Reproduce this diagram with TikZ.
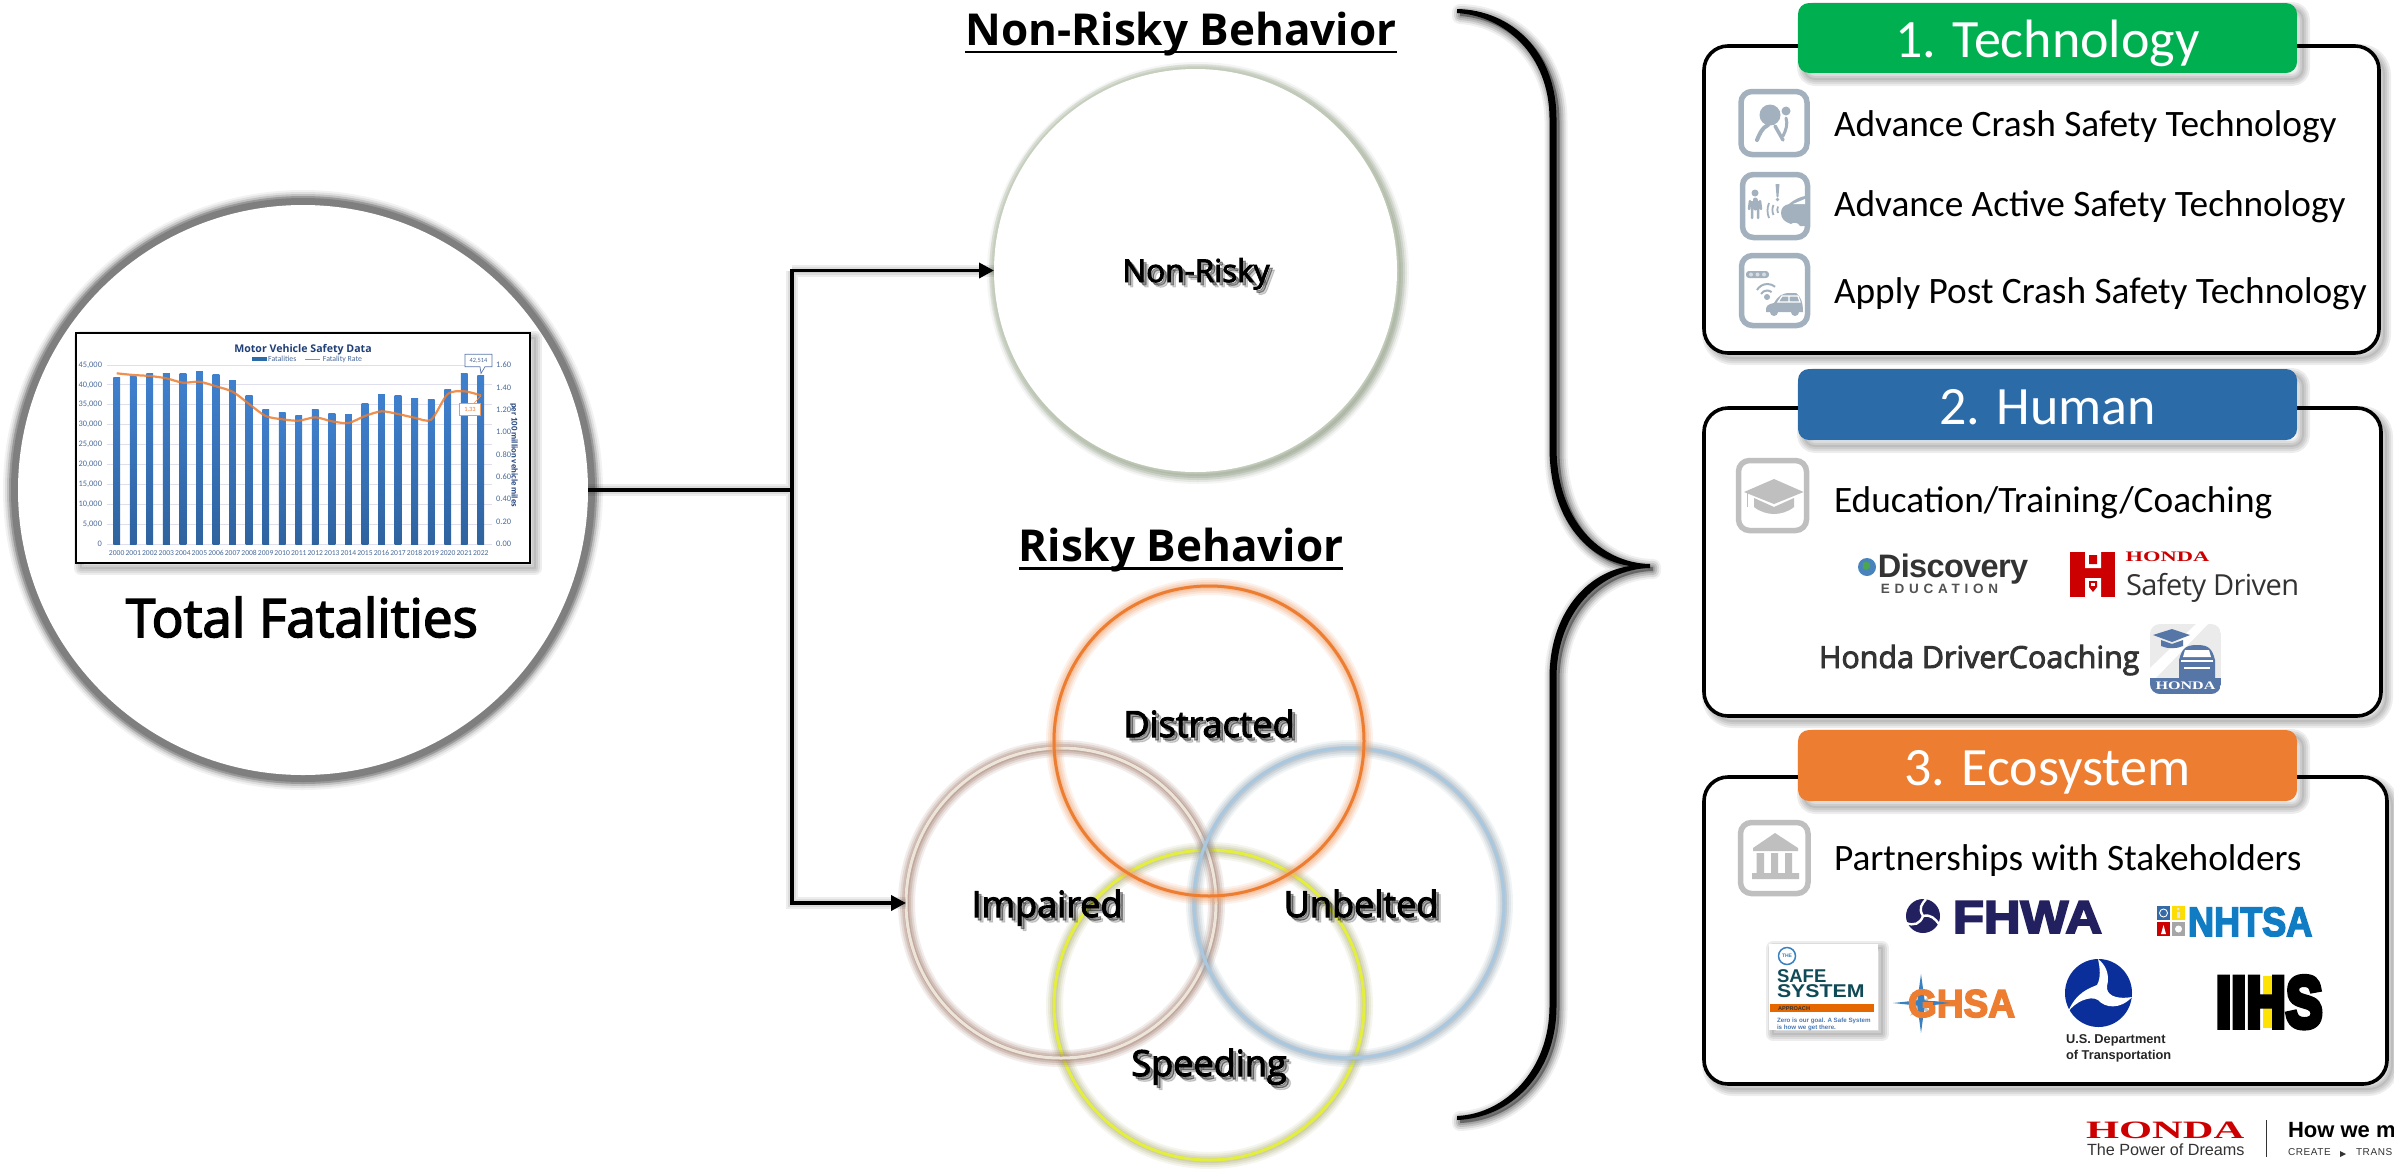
\documentclass[tikz,border=0pt]{standalone}
\usepackage{fontspec}
\setmainfont{Carlito}
\newfontfamily\os{Open Sans}
\newfontfamily\osm[FakeBold=3]{Open Sans}
\newfontfamily\lib{Liberation Sans}
\newfontfamily\libs{Liberation Serif}
\newfontfamily\libh[FakeBold=8]{Liberation Sans Bold}
\newfontfamily\libf[FakeBold=4]{Liberation Sans Bold}
\newcommand{\fs}[1]{\fontsize{#1}{#1}\selectfont}
\definecolor{igrayb}{HTML}{A3B1BE}
\definecolor{igray}{HTML}{BFBFBF}
\definecolor{cnavy}{HTML}{1F3F77}
\definecolor{ctick}{HTML}{4A6A99}
\definecolor{corange}{HTML}{ED7D31}
\definecolor{hgreen}{HTML}{00B050}
\definecolor{hblue}{HTML}{2B6CA8}
\definecolor{hred}{HTML}{CC0000}
\definecolor{fhw}{HTML}{23205F}
\definecolor{nht}{HTML}{0F7CC4}
\definecolor{dotb}{HTML}{0A2F9A}
\definecolor{teal1}{HTML}{0F4A57}
\definecolor{dk}{HTML}{333333}
\definecolor{bartop}{HTML}{3F80CE}
\definecolor{barbot}{HTML}{2F639F}
\definecolor{glowb}{HTML}{9C7665}
\definecolor{glowu}{HTML}{9AAAB8}
\definecolor{lineu}{HTML}{A9C8E0}
\definecolor{linei}{HTML}{EDE4DA}
\definecolor{lines}{HTML}{E4EE3C}
\definecolor{glows}{HTML}{B4B680}
\definecolor{glowo}{HTML}{F0A26C}
\definecolor{nrd}{HTML}{7F8C74}
\definecolor{nrl}{HTML}{C5CFBB}
\tikzset{
  tx/.style={inner sep=0pt,outer sep=0pt,anchor=base},
  txl/.style={tx,anchor=base west},
  txr/.style={inner sep=0pt,outer sep=0pt,anchor=east},
  txm/.style={inner sep=0pt,outer sep=0pt,anchor=center},
  circ/.style={circle,inner sep=0pt,outer sep=0pt,minimum size=#1},
  conn/.style={line width=3.6pt,black},
  tipped/.style={-{Triangle[length=15pt,width=15pt]}},
  boxln/.style={line width=3.6pt,black,fill=white,rounded corners=24pt},
  hdr/.style={rounded corners=11pt},
  hdrtx/.style={tx,font=\fs{54},white},
  item/.style={txl,font=\fs{37.3}},
  iconb/.style={line width=5.5pt,rounded corners=11pt},
  lbl/.style={tx,font=\osm\fs{36}},
}
\usetikzlibrary{arrows.meta}
\newcommand{\softp}[3][]{\begin{scope}[shift={(#2,#2)}]\foreach \w in {14,10,6,2}{\draw[black,opacity=.07,line width=\w pt,line join=round,#1] #3;}\end{scope}}
\newcommand{\ring}[5]{%
 \foreach \w/\op in {17/.13,13/.18,9/.24,5/.30}{\draw[#4,opacity=\op,line width=\w pt] (#1+.5,#2+.5) circle[radius=#3 pt];}
 \draw[#5,line width=3pt] (#1,#2) circle[radius=#3 pt];}
\newcommand{\shlab}[4]{%
 \foreach \d/\op in {5/.16,3/.34}{\node[lbl,opacity=\op] (#1s\d) at (#2+\d,#3+\d) {#4};}
 \node[lbl] (#1) at (#2,#3) {#4};}
\begin{document}
\begin{tikzpicture}[x=1pt,y=-1pt]
\useasboundingbox (0,0) rectangle (2394,1168);
\clip (0,0) rectangle (2394,1168);
\fill[white] (0,0) rectangle (2394,1168);

%% ---------- left big circle
\foreach \w/\op/\c in {24/.05/black,20/.08/black,16/.3/gray,12/.6/gray,8/.8/gray!95!black}{\draw[\c,opacity=\op,line width=\w pt] (303,490) circle[radius=288pt];}
\fill[white] (303,490) circle[radius=285pt];
\node[circ=570pt] (total) at (303,490) {};

%% chart
\softp{5}{(76,333) rectangle (530,563)}
\draw[black,line width=2.6pt,fill=white] (76,333) rectangle (530,563);
\foreach \i in {0,...,9}{\pgfmathsetmacro\yy{365+\i*19.89}\draw[blue!30!gray!20,line width=.8pt] (107,\yy) -- (492,\yy);}
\foreach \i/\t in {0/377,1/376,2/373.3,3/373.7,4/373.7,5/371.3,6/374.3,7/380.3,8/395.7,9/409.7,10/412.7,11/415,12/409.7,13/413.3,14/414,15/403.3,16/394,17/395,18/398,19/399.7,20/389,21/373.7,22/375}{
  \pgfmathsetmacro\xx{116.7+\i*16.55}
  \shade[top color=bartop,bottom color=barbot] (\xx-3.4,\t) rectangle (\xx+3.4,544);
  \pgfmathtruncatemacro\yr{2000+\i}
  \node[txm,font=\fs{7.6},ctick] (yr\i) at (\xx,552.7) {\yr};
}
\draw[corange,line width=2.2pt,opacity=.85] plot[smooth,tension=.45] coordinates {(116.7,373.3)(133.25,375)(149.8,376)(166.35,378.3)(182.9,382.7)(199.45,381.7)(216,386.3)(232.55,391.7)(249.1,404)(265.65,416)(282.2,419.3)(298.75,420.7)(315.3,417.3)(331.85,421.3)(348.4,423)(364.95,416)(381.5,411.3)(398.05,414)(414.6,417.7)(431.15,419.7)(447.7,394)(464.25,391.3)(480.8,395.3)};
\foreach \i/\l in {0/{45,000},1/{40,000},2/{35,000},3/{30,000},4/{25,000},5/{20,000},6/{15,000},7/{10,000},8/{5,000},9/0}{
  \pgfmathsetmacro\yy{365+\i*19.89}\node[txr,font=\fs{8.4},ctick] (la\i) at (102,\yy) {\l};}
\foreach \i/\l in {0/1.60,1/1.40,2/1.20,3/1.00,4/0.80,5/0.60,6/0.40,7/0.20,8/0.00}{
  \pgfmathsetmacro\yy{365+\i*22.375}\node[inner sep=0pt,anchor=west,font=\fs{8.4},ctick] (ra\i) at (496,\yy) {\l};}
\node[tx,font=\os\bfseries\fs{10.6},cnavy] (ctitle) at (303,352) {Motor Vehicle Safety Data};
\fill[hblue] (251.7,357.3) rectangle (266.7,361.3);
\node[inner sep=0pt,anchor=west,font=\fs{7.8},ctick] (lgf) at (268,359) {Fatalities};
\draw[corange,line width=1.5pt] (305,359.3) -- (320,359.3);
\node[inner sep=0pt,anchor=west,font=\fs{7.8},ctick] (lgr) at (322.7,359) {Fatality Rate};
\node[txm,rotate=-90,font=\bfseries\fs{8.8},cnavy] (axr) at (514,455) {per 100 million vehicle miles};
\draw[cyan!40!blue!60!gray,line width=.7pt,fill=white] (465,354.3) -- (492,354.3) -- (492,366.7) -- (485,366.7) -- (481,373.5) -- (480,366.7) -- (465,366.7) -- cycle;
\node[txm,font=\fs{6.4},ctick] (c1) at (478.5,360.5) {42,514};
\draw[corange!80,line width=.7pt] (474,403.3) -- (481,395.5);
\draw[corange!80,line width=.7pt,fill=white] (459.7,403.3) rectangle (480.3,415);
\node[txm,font=\fs{6.4},corange] (c2) at (470,409.2) {1.33};

\node[tx,font=\osm\fs{53}] (totallbl) at (302,637) {Total Fatalities};

%% ---------- non-risky
\node[tx,font=\os\bfseries\fs{44}] (nrt) at (1181,45) {Non-Risky Behavior};
\draw[black,line width=2.6pt] (965,52) -- (1397,52);
\foreach \w/\op in {3/.3,7/.25,11/.2,15/.14,19/.08}{\draw[nrd,opacity=\op,line width=\w pt] (1198,273) circle[radius=201.5pt];}
\foreach \w/\op in {4/.6,9/.35}{\draw[nrl,opacity=\op,line width=\w pt] (1195.5,270.5) circle[radius=201.5pt];}
\fill[white] (1195.5,270.5) circle[radius=201.5pt];
\node[circ=403pt] (nonrisky) at (1195.5,270.5) {};
\shlab{nrl}{1196}{282}{\fs{31.5}Non-Risky}

%% ---------- risky
\node[tx,font=\os\bfseries\fs{44}] (rt) at (1181,561.5) {Risky Behavior};
\draw[black,line width=2.6pt] (1019,568.5) -- (1343,568.5);
\ring{1209}{1005}{155}{glows}{lines}
\ring{1061}{903}{155}{glowb}{linei}
\ring{1349}{903}{155}{glowu}{lineu}
\ring{1209}{741}{155}{glowo}{corange}
\node[circ=310pt] (dist) at (1209,741) {};
\node[circ=310pt] (impaired) at (1061,903) {};
\node[circ=310pt] (unb) at (1349,903) {};
\node[circ=310pt] (spd) at (1209,1005) {};
\shlab{ldist}{1209}{737}{Distracted}
\shlab{limp}{1047}{917}{Impaired}
\shlab{lunb}{1361}{917}{Unbelted}
\shlab{lspd}{1209}{1076}{Speeding}

%% ---------- connectors
\coordinate (jn) at (792,490);
\begin{scope}[shift={(5,5)}]
\foreach \w in {12,8,4}{\draw[black,opacity=.07,line width=\w pt] (total.east) -- (jn) (jn |- nonrisky.west) -- (jn |- impaired.west) -- (impaired.west) (jn |- nonrisky.west) -- (nonrisky.west);}
\end{scope}
\draw[conn] (total.east) -- (jn);
\draw[conn,tipped] (jn) |- (nonrisky.west);
\draw[conn,tipped] (jn) |- (impaired.west);

%% ---------- brace
\newcommand{\bracepath}{(1457,9) .. controls (1510,10) and (1556.5,50) .. (1556.5,119) -- (1556.5,447) .. controls (1556.5,520) and (1600,563) .. (1650,564) -- (1650,568) .. controls (1600,569) and (1556.5,612) .. (1556.5,678) -- (1556.5,1006) .. controls (1556.5,1075) and (1510,1118) .. (1457,1120) -- (1457,1116) .. controls (1505,1114) and (1549.5,1070) .. (1549.5,1006) -- (1549.5,678) .. controls (1549.5,612) and (1588,572) .. (1630,566) .. controls (1588,560) and (1549.5,520) .. (1549.5,447) -- (1549.5,119) .. controls (1549.5,55) and (1505,16) .. (1457,13) -- cycle}
\begin{scope}[shift={(3,3)}]
\foreach \w/\op in {16/.06,12/.09,8/.12,4/.14}{\draw[black,opacity=\op,fill=black,line width=\w pt,line join=round] \bracepath;}
\end{scope}
\fill[black] \bracepath;

%% ---------- box 1
\softp{5}{[rounded corners=24pt] (1704,46) rectangle (2379,353)}
\draw[boxln] (1704,46) rectangle (2379,353);
\softp{6}{[rounded corners=11pt] (1798,3) rectangle (2297,73)}
\fill[hgreen,hdr] (1798,3) rectangle (2297,73);
\node[hdrtx] (h1) at (2047.5,57) {1. Technology};
\node[item] (t11) at (1834,136.5) {Advance Crash Safety Technology};
\node[item] (t12) at (1834,216.5) {Advance Active Safety Technology};
\node[item] (t13) at (1834,303) {Apply Post Crash Safety Technology};
% icon 1
\draw[igrayb,iconb] (1741,91.5) rectangle (1807,154.5);
\fill[igrayb] (1770,115) circle[radius=10.5pt] (1786,111) circle[radius=4.5pt];
\draw[igrayb,line width=4pt,line cap=round] (1768,125) .. controls (1762,128) and (1760,133) .. (1757,140);
\draw[igrayb,line width=3.5pt,line cap=round] (1775,126) -- (1783,140);
\draw[igrayb,line width=3pt,line cap=round] (1786,118) .. controls (1788,124) and (1786,130) .. (1783,136);
% icon 2
\draw[igrayb,iconb] (1742.5,174.5) rectangle (1807.5,237.5);
\fill[igrayb] (1755,193) circle[radius=3.5pt];
\draw[igrayb,line width=5pt,line cap=round] (1755,200) -- (1755,208);
\draw[igrayb,line width=2.5pt,line cap=round] (1752,202) -- (1752,218) (1758,202) -- (1758,218) (1750,201) -- (1749,209) (1760,201) -- (1761,209);
\fill[igrayb] (1775.5,184) -- (1779.5,184) -- (1778.4,197) -- (1776.6,197) -- cycle (1777.5,199.5) circle[radius=1.8pt];
\draw[igrayb,line width=1.8pt] (1769,203) .. controls (1767,208) and (1767,213) .. (1769,218) (1773.5,205) .. controls (1772,208) and (1772,212) .. (1773.5,215) (1778,206.5) .. controls (1777,208.5) and (1777,211) .. (1778,213);
\fill[igrayb] (1781,213) .. controls (1781,208) and (1784,205) .. (1789,204) .. controls (1795,199) and (1800,197) .. (1805,196) -- (1805,226) -- (1800,226) .. controls (1798,222) and (1793,222) .. (1791,224) .. controls (1785,222) and (1781,219) .. (1781,213) -- cycle;
\fill[white] (1793,204) -- (1805,199) -- (1805,204) -- cycle;
% icon 3
\draw[igrayb,iconb] (1741.5,255.5) rectangle (1807.5,325.5);
\fill[igrayb,rounded corners=3pt] (1746,271) rectangle (1769,278);
\foreach \x in {1751,1757.5,1764}{\fill[white,opacity=.55] (\x,274.5) circle[radius=2pt];}
\draw[igrayb,line width=2pt] (1757,290) arc[start angle=150,end angle=50,radius=12pt];
\draw[igrayb,line width=2pt] (1761,294) arc[start angle=150,end angle=50,radius=7pt];
\fill[igrayb] (1767,297) circle[radius=3pt];
\fill[igrayb] (1766,312) .. controls (1765,306) and (1768,304) .. (1774,303) .. controls (1778,296) and (1782,293) .. (1790,293) -- (1796,293) .. controls (1800,296) and (1803,301) .. (1803,312) -- cycle;
\fill[igrayb] (1774,312) circle[radius=4pt] (1795,312) circle[radius=4pt];
\draw[white,line width=1.2pt] (1778,302) -- (1782,296) -- (1798,296) -- (1800,302) -- cycle (1789,296) -- (1789,302);

%% ---------- box 2
\softp{5}{[rounded corners=24pt] (1704,408) rectangle (2381,716)}
\draw[boxln] (1704,408) rectangle (2381,716);
\softp{6}{[rounded corners=11pt] (1798,369) rectangle (2297,440)}
\fill[hblue,hdr] (1798,369) rectangle (2297,440);
\node[hdrtx] (h2) at (2047.5,424) {2. Human};
\node[item] (t21) at (1834,512) {Education/Training/Coaching};
\draw[igray,iconb] (1738.5,460.5) rectangle (1806.5,530.5);
\fill[igray] (1744,492) -- (1774,479) -- (1803.6,492) -- (1774,504) -- cycle;
\fill[igray] (1754,498) -- (1774,507) -- (1794,498) -- (1794,507) .. controls (1788,512) and (1780,514) .. (1774,514) .. controls (1768,514) and (1760,512) .. (1754,507) -- cycle;
\draw[igray,line width=1.4pt] (1747.5,493) -- (1747.5,507);
% Discovery
\node[tx,font=\lib\bfseries\fs{32.5}\addfontfeature{LetterSpace=-2},dk] (disc) at (1953,577) {Discovery};
\node[tx,font=\lib\bfseries\fs{13.5}\addfontfeature{LetterSpace=35},dk!85] (educ) at (1939.5,593.5) {EDUCATION};
\fill[cyan!60!blue!70!gray] (1867,567) circle[radius=9pt];
\fill[green!50!black!70] (1863,563) .. controls (1867,560) and (1871,563) .. (1870,567) .. controls (1868,570) and (1865,571) .. (1863,568) -- cycle;
% Safety Driven
\fill[hred] (2070,552) rectangle (2115,597);
\fill[white] (2085,552) rectangle (2101,568) (2085,578) rectangle (2101,597);
\fill[hred] (2089,555) rectangle (2097,564) (2089,581) -- (2097,581) -- (2097,587) -- (2093,592) -- (2089,587) -- cycle;
\fill[white] (2091,583) rectangle (2095,586);
\node[txl,font=\libs\fs{14.5},hred] (hon1) at (2125.6,561) {\scalebox{1.55}[1]{\bfseries HONDA}};
\node[txl,font=\os\fs{29}\addfontfeature{LetterSpace=-2},dk] (sdr) at (2126,595) {Safety Driven};
% DriverCoaching
\node[txl,font=\osm\fs{30.4},dk] (hdc) at (1819,668) {Honda DriverCoaching};
\begin{scope}
\clip[rounded corners=10pt] (2150,624) rectangle (2221,694);
\fill[black!8] (2150,624) rectangle (2221,694);
\fill[white] (2150,668) -- (2196,624) -- (2208,624) -- (2150,684) -- cycle;
\fill[cyan!50!blue!70!black!85] (2150,678) rectangle (2221,694);
\end{scope}
\fill[cyan!50!blue!70!black!85] (2153,635) -- (2172,629) -- (2190,635) -- (2172,642) -- cycle;
\fill[cyan!50!blue!70!black!85] (2161,640) -- (2172,644) -- (2183,640) -- (2183,646) .. controls (2176,649) and (2168,649) .. (2161,646) -- cycle;
\fill[cyan!50!blue!70!black!85] (2179,660) .. controls (2182,648) and (2186,645) .. (2197,645) .. controls (2208,645) and (2212,648) .. (2215,660) -- (2215,678) -- (2179,678) -- cycle;
\fill[white] (2185,650) -- (2209,650) -- (2211,657) -- (2183,657) -- cycle;
\draw[white,line width=1.2pt] (2181,661) -- (2213,661) (2184,668) -- (2210,668);
\node[tx,font=\libs\fs{11.5},white] (hon2) at (2185.5,689.3) {\scalebox{1.4}[1]{\bfseries HONDA}};

%% ---------- box 3
\softp{5}{[rounded corners=24pt] (1704,777) rectangle (2387,1084)}
\draw[boxln] (1704,777) rectangle (2387,1084);
\softp{6}{[rounded corners=11pt] (1798,730) rectangle (2297,801)}
\fill[corange,hdr] (1798,730) rectangle (2297,801);
\node[hdrtx] (h3) at (2047.5,785) {3. Ecosystem};
\node[item] (t31) at (1834,870) {Partnerships with Stakeholders};
\draw[igray,iconb] (1740.5,822.5) rectangle (1808,893.5);
\fill[igray] (1753,848) -- (1775,833) -- (1798,848) -- (1798,851) -- (1753,851) -- cycle;
\fill[igray] (1756.5,853) rectangle (1764,873) (1771,853) rectangle (1778,873) (1785,853) rectangle (1792,873) (1752,873) rectangle (1799,879);
% FHWA
\fill[fhw] (1923,916) circle[radius=17pt];
\draw[white,line width=2.4pt] (1923,916) .. controls (1918,908) and (1922,904) .. (1926,899);
\draw[white,line width=2.4pt] (1923,916) .. controls (1931,914) and (1935,919) .. (1939,924);
\draw[white,line width=2.4pt] (1923,916) .. controls (1920,924) and (1914,926) .. (1906,923);
\node[txl,font=\libf\fs{46},fhw] (fhwa) at (1953,933) {\scalebox{1.1}[1]{FHWA}};
% NHTSA
\fill[cyan!50!blue!80!black] (2157,906) rectangle (2170,920);
\fill[yellow!80!orange] (2172,906) rectangle (2185,920);
\fill[red!80!black] (2157,922) rectangle (2170,936);
\fill[gray!70] (2172,922) rectangle (2185,936);
\draw[white,line width=.9pt] (2163.5,913) circle[radius=4pt];
\fill[white] (2178.5,929) circle[radius=3.5pt];
\fill[white] (2161,934) -- (2163.5,925) -- (2166,934) -- cycle;
\fill[white!90!black] (2178,909) circle[radius=1.5pt] (2177,912) rectangle (2180,918);
\node[txl,font=\libf\fs{41},nht] (nhtsa) at (2188,936) {\scalebox{.88}[1]{NHTSA}};
% Safe System card
\softp{4}{(1769,944) rectangle (1878,1030)}
\fill[white] (1769,944) rectangle (1878,1030);
\draw[cyan!60!blue!80!gray,line width=1.5pt] (1787,956) circle[radius=8.5pt];
\node[txm,font=\lib\bfseries\fs{5},cyan!60!blue!80!gray] (the) at (1787,956) {THE};
\node[txl,font=\lib\bfseries\fs{18.5},teal1] (safe) at (1777,982) {SAFE};
\node[txl,font=\lib\bfseries\fs{18.5},teal1] (syst) at (1777,997) {\scalebox{1.15}[1]{SYSTEM}};
\fill[orange!90!red!90!black] (1770,1004) rectangle (1874,1012);
\node[txl,font=\lib\bfseries\fs{5.6},dk] (appr) at (1778,1010.5) {APPROACH};
\node[txl,font=\lib\bfseries\fs{6.2},cyan!50!blue!70!gray] (z1) at (1777,1022) {Zero is our goal. A Safe System};
\node[txl,font=\lib\bfseries\fs{6.2},cyan!50!blue!70!gray] (z2) at (1777,1029) {is how we get there.};
% GHSA
\fill[gray!45] (1921,1003) -- (1932,994) -- (1925,1005) -- (1932,1016) -- (1921,1008) -- (1910,1016) -- (1917,1005) -- (1910,994) -- cycle;
\fill[cyan!60!blue!80!gray] (1921,974) -- (1925,1003) -- (1921,1033) -- (1917,1003) -- cycle;
\fill[cyan!60!blue!80!gray] (1893,1003) -- (1921,1000) -- (1950,1003) -- (1921,1006) -- cycle;
\node[txl,font=\libf\fs{39},corange] (ghsa) at (1908,1017) {\scalebox{.95}[1]{GHSA}};
\fill[cyan!60!blue!80!gray] (1933,1001) -- (1950,1003) -- (1933,1005) -- cycle;
% DOT
\fill[dotb] (2098.5,993) circle[x radius=33.5pt,y radius=34pt];
\fill[white] (2098,959) .. controls (2106,965) and (2110,975) .. (2107,986) .. controls (2106,994) and (2114,1000) .. (2132,997) .. controls (2120,1010) and (2105,1008) .. (2098,1000) .. controls (2090,995) and (2075,1002) .. (2068,1012) .. controls (2076,992) and (2090,988) .. (2097,985) .. controls (2101,978) and (2100,968) .. (2098,959) -- cycle;
\node[txl,font=\lib\bfseries\fs{12.8},black!85] (dot1) at (2066,1043) {U.S. Department};
\node[txl,font=\lib\bfseries\fs{12.8},black!85] (dot2) at (2066,1059) {of Transportation};
% IIHS
\fill[yellow!85!orange] (2263,976) rectangle (2274,1028);
\node[txl,font=\libh\fs{72}] (iihs) at (2216,1027) {\scalebox{.76}[1]{IIHS}};
%% ---------- footer
\node[txl,font=\libs\fs{25},hred] (hon3) at (2086,1138) {\scalebox{1.7}[1]{\bfseries HONDA}};
\node[txl,font=\lib\fs{16.2},dk] (pow) at (2087,1155) {The Power of Dreams};
\draw[dk,line width=1.4pt] (2266.5,1120) -- (2266.5,1157);
\node[txl,font=\lib\bfseries\fs{22}] (how) at (2288,1137) {How we m};
\node[txl,font=\lib\fs{10}\addfontfeature{LetterSpace=6},dk] (cr) at (2288,1155.7) {CREATE};
\fill[dk] (2340,1151) -- (2346,1154) -- (2340,1157) -- cycle;
\node[txl,font=\lib\fs{10}\addfontfeature{LetterSpace=6},dk] (tr) at (2356,1155.7) {TRANS};
\end{tikzpicture}
\end{document}
